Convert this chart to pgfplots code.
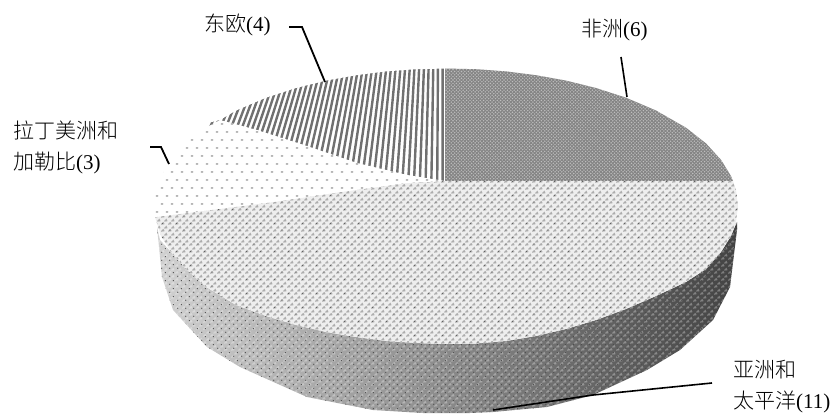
\documentclass[border=0pt]{standalone}
\usepackage{fontspec}
\setmainfont{Liberation Serif}
\newfontfamily\cjk{Noto Sans CJK SC Light}
\usepackage{pgfplots}
\pgfplotsset{compat=1.18}
\usetikzlibrary{patterns}

% pattern tiles, sizes in pt (1pt = 1px of the reference)
\pgfdeclarepatternformonly{afr}{\pgfqpoint{-1pt}{-1pt}}{\pgfqpoint{5pt}{5pt}}{\pgfqpoint{3.4pt}{3.4pt}}{
  \pgfpathcircle{\pgfqpoint{0.8pt}{0.8pt}}{0.8pt}
  \pgfpathcircle{\pgfqpoint{2.5pt}{2.5pt}}{0.8pt}
  \pgfusepath{fill}}
\pgfdeclarepatternformonly{asia}{\pgfqpoint{0pt}{0pt}}{\pgfqpoint{7pt}{7pt}}{\pgfqpoint{7pt}{7pt}}{
  \pgfsetlinewidth{1.4pt}
  \pgfpathmoveto{\pgfqpoint{0.5pt}{0.5pt}}
  \pgfpathlineto{\pgfqpoint{2.5pt}{2.5pt}}
  \pgfpathlineto{\pgfqpoint{3.5pt}{0.8pt}}
  \pgfpathmoveto{\pgfqpoint{4pt}{4pt}}
  \pgfpathlineto{\pgfqpoint{6pt}{6pt}}
  \pgfpathlineto{\pgfqpoint{6.8pt}{4.2pt}}
  \pgfusepath{stroke}}
\pgfdeclarepatternformonly{specks}{\pgfqpoint{0pt}{0pt}}{\pgfqpoint{14pt}{14pt}}{\pgfqpoint{14pt}{14pt}}{
  \pgfpathcircle{\pgfqpoint{2pt}{2pt}}{0.6pt}
  \pgfpathcircle{\pgfqpoint{9pt}{9pt}}{0.6pt}
  \pgfusepath{fill}}
\pgfdeclarepatternformonly{sidedots}{\pgfqpoint{0pt}{0pt}}{\pgfqpoint{8pt}{8pt}}{\pgfqpoint{8pt}{8pt}}{
  \pgfpathcircle{\pgfqpoint{2pt}{2pt}}{0.7pt}
  \pgfpathcircle{\pgfqpoint{6pt}{6pt}}{0.7pt}
  \pgfusepath{fill}}
\pgfdeclarepatternformonly{latin}{\pgfqpoint{-1pt}{-1pt}}{\pgfqpoint{11pt}{17pt}}{\pgfqpoint{10pt}{16pt}}{
  \pgfpathellipse{\pgfqpoint{2pt}{2pt}}{\pgfqpoint{1.5pt}{0pt}}{\pgfqpoint{0pt}{0.9pt}}
  \pgfpathellipse{\pgfqpoint{7pt}{10pt}}{\pgfqpoint{1.5pt}{0pt}}{\pgfqpoint{0pt}{0.9pt}}
  \pgfusepath{fill}}

\pgfplotstableread{
x y
157 227
160 240
171 252
186 269
206 287
236 305
266 316
296 325
326 332
356 337
386 341
416 343
446 344
476 343.5
506 341
536 336
566 329
596 320
626 309
656 296
686 282
706 269
721 252
731 236
737 222
737 230
730 287
713 320
680 350
647 370
593 395
547 407
493 412
470 413
423 413
373 410
307 397
240 367
207 347
173 310
162 277
}\sidetab

\pgfplotstableread{
x y
445 181
733 181
736 190
738 206
736 222
731 236
721 252
706 269
686 282
656 296
626 309
596 320
566 329
536 336
506 341
476 343.5
446 344
416 343
386 341
356 337
326 332
296 325
266 316
236 305
206 287
186 269
171 252
161 236
155 217
273 202
340 192
407 183
}\asiatab

\pgfplotstableread{
x y
445 181
445 68.5
476 69.2
506 71.4
536 75.2
566 80.6
596 88
626 97.7
656 110.5
686 127.7
706 143.4
721 159.8
731 176.1
733 181
}\afrtab

% white above the arc of the striped slice
\pgfplotstableread{
x y
446 68.5
416 69.2
386 71.4
356 75.2
326 80.6
296 88
266 97.7
236 110.5
220 120
200 125
200 50
446 50
}\eurmask

\pgfplotstableread{
x y
220 120
206 127.7
186 143.4
171 159.8
161 176.1
156 190
154.5 205
155 217
273 202
340 192
407 183
445 181
407 175
357 163
307 146
257 130
}\lattab

% stripes of the slice, leaning together towards the top
\pgfplotstableread{
x y
442.6 60
442.6 185
nan nan
438.0 60
437.2 185
nan nan
433.4 60
431.3 185
nan nan
428.8 60
425.5 185
nan nan
424.2 60
419.7 185
nan nan
419.5 60
413.8 185
nan nan
414.9 60
408.0 185
nan nan
410.3 60
402.1 185
nan nan
405.7 60
396.3 185
nan nan
401.1 60
390.4 185
nan nan
396.4 60
384.6 185
nan nan
391.8 60
378.7 185
nan nan
387.2 60
372.9 185
nan nan
382.6 60
367.0 185
nan nan
378.0 60
361.2 185
nan nan
373.3 60
355.3 185
nan nan
368.7 60
349.5 185
nan nan
364.1 60
343.6 185
nan nan
359.5 60
337.8 185
nan nan
354.9 60
332.0 185
nan nan
350.3 60
326.1 185
nan nan
345.6 60
320.3 185
nan nan
341.0 60
314.4 185
nan nan
336.4 60
308.6 185
nan nan
331.8 60
302.7 185
nan nan
327.2 60
296.9 185
nan nan
322.5 60
291.0 185
nan nan
317.9 60
285.2 185
nan nan
313.3 60
279.3 185
nan nan
308.7 60
273.5 185
nan nan
304.1 60
267.6 185
nan nan
299.5 60
261.8 185
nan nan
294.8 60
255.9 185
nan nan
290.2 60
250.1 185
nan nan
285.6 60
244.2 185
nan nan
281.0 60
238.4 185
nan nan
276.4 60
232.5 185
nan nan
271.7 60
226.7 185
nan nan
267.1 60
220.8 185
nan nan
262.5 60
215.0 185
nan nan
257.6 60
208.6 185
nan nan
253.0 60
202.7 185
nan nan
248.3 60
196.9 185
nan nan
243.7 60
191.0 185
nan nan
239.1 60
185.2 185
}\eurlines

\definecolor{afrbase}{HTML}{848484}
\definecolor{afrdot}{HTML}{BEBEBE}
\definecolor{asiabase}{HTML}{EEEEEE}
\definecolor{asialine}{HTML}{ADADAD}
\definecolor{latdot}{HTML}{9C9C9C}
\definecolor{eurline}{HTML}{707070}

\begin{document}
\begin{tikzpicture}
\begin{axis}[
    scale only axis,
    width=835pt, height=414pt,
    xmin=0, xmax=835,
    ymin=0, ymax=414,
    y dir=reverse,
    hide axis,
    clip=false,
    unbounded coords=jump,
]
% keeps the whole frame in the bounding box
\path (axis cs:0,0) rectangle (axis cs:835,414);

% side wall
\addplot[draw=none, left color=black!18, middle color=black!50, right color=black!74] table {\sidetab} -- cycle;
\addplot[draw=none, pattern=asia, pattern color=white, fill opacity=0.3] table {\sidetab} -- cycle;
\addplot[draw=none, pattern=sidedots, pattern color=black!70] table {\sidetab} -- cycle;

% top of the pie
\addplot[eurline, line width=2.4pt] table {\eurlines};
\addplot[draw=none, fill=white] table {\eurmask} -- cycle;
\addplot[draw=none, fill=asiabase] table {\asiatab} -- cycle;
\addplot[draw=none, pattern=asia, pattern color=asialine] table {\asiatab} -- cycle;
\addplot[draw=none, pattern=specks, pattern color=black!65] table {\asiatab} -- cycle;
\addplot[draw=none, fill=afrbase] table {\afrtab} -- cycle;
\addplot[draw=none, pattern=afr, pattern color=afrdot] table {\afrtab} -- cycle;
\addplot[draw=none, fill=white] table {\lattab} -- cycle;
\addplot[draw=none, pattern=latin, pattern color=latdot] table {\lattab} -- cycle;

% leaders
\addplot[black, line width=1.8pt] coordinates {(289,27)(302,27)(325,82)};
\addplot[black, line width=1.6pt] coordinates {(621,57)(627,97)};
\addplot[black, line width=1.8pt] coordinates {(150,147)(161,147)(169,164)};
\addplot[black, line width=1.6pt] coordinates {(493,410)(593,395)(712,383)};

% labels
\begin{scope}[every node/.style={anchor=west, inner sep=0pt, font=\fontsize{21}{25}\selectfont}]
\node at (axis cs:204,25) {\cjk 东欧\rmfamily(4)};
\node at (axis cs:581,30) {\cjk 非洲\rmfamily(6)};
\node at (axis cs:13,130) {\cjk 拉丁美洲和};
\node at (axis cs:13,163) {\cjk 加勒比\rmfamily(3)};
\node at (axis cs:733,370) {\cjk 亚洲和};
\node at (axis cs:733,402) {\cjk 太平洋\rmfamily(11)};
\end{scope}
\end{axis}
\end{tikzpicture}
\end{document}
